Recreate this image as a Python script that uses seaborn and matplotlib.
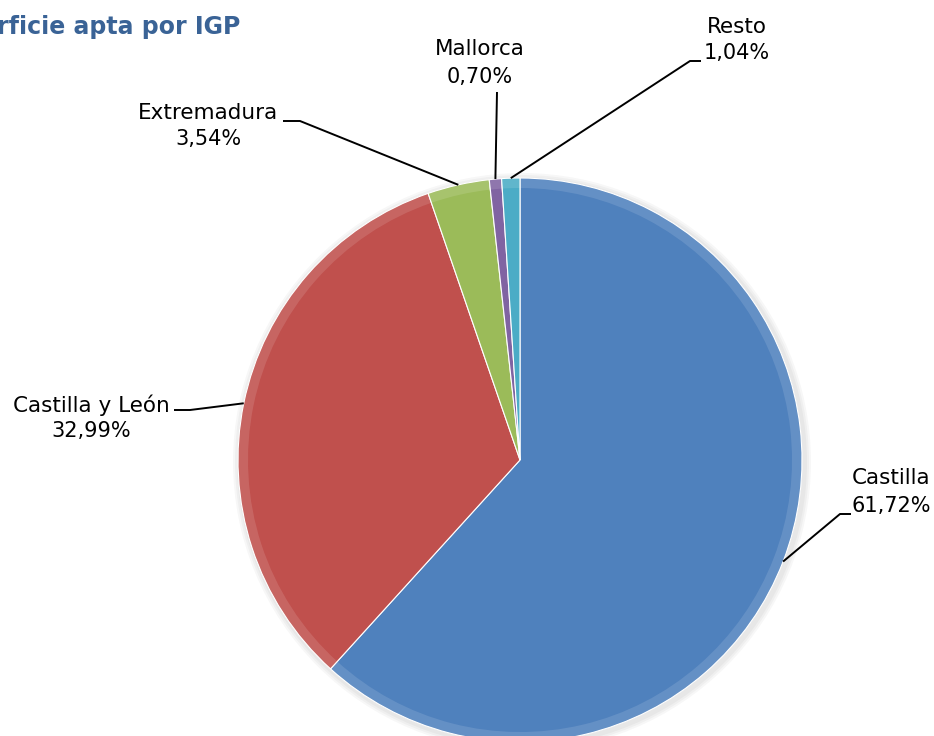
import numpy as np
import matplotlib
matplotlib.use('Agg')
import matplotlib.pyplot as plt
import seaborn as sns

# datos
regiones = ['Castilla', 'Castilla y León', 'Extremadura', 'Mallorca', 'Resto']
porcentajes = [61.72, 32.99, 3.54, 0.70, 1.04]
etiquetas = ['61,72%', '32,99%', '3,54%', '0,70%', '1,04%']
colores = ['#4F81BD', '#C0504D', '#9BBB59', '#8064A2', '#4BACC6']

titulo = 'Superficie apta por IGP'

sns.set_theme(style='white')
plt.rcParams['font.family'] = ['DejaVu Sans']

W, H = 934, 736
fig = plt.figure(figsize=(W / 100, H / 100), dpi=100)
ax = fig.add_axes([0, 0, 1, 1])

# posicion del pastel en pixeles (y medida desde arriba)
cx, cy, R = 520, 460, 282


def py(y):
    return H - y


# sombra suave alrededor
for i in range(3):
    ax.add_patch(plt.Circle((cx + 2, py(cy) - 2), R + 3 + 2 * i, color='black',
                            alpha=0.03, lw=0, zorder=0))

wedges, _ = ax.pie(porcentajes, colors=colores, startangle=90, counterclock=False,
                   center=(cx, py(cy)), radius=R, frame=True,
                   wedgeprops=dict(edgecolor='white', linewidth=0.8, zorder=2))
ax.set_xlim(0, W)
ax.set_ylim(0, H)
ax.set_aspect('equal')
ax.axis('off')

# brillo ligero en los bordes de cada sector
for w in wedges:
    ax.add_patch(matplotlib.patches.Wedge(w.center, w.r, w.theta1, w.theta2,
                                          width=10, facecolor='white',
                                          alpha=0.12, lw=0, zorder=3))

# posiciones de etiquetas: (x texto, y linea1, y linea2), puntos de la linea guia
disposicion = {
    'Castilla': ((891, 478, 506), [(840, 514), (851, 514)]),
    'Castilla y León': ((91, 405, 431), [(190, 410), (174, 410)]),
    'Extremadura': ((208, 113, 139), [(300, 121), (283, 121)]),
    'Mallorca': ((480, 49, 77), [(497, 92)]),
    'Resto': ((737, 27, 53), [(690, 61), (701, 61)]),
}

for w, reg, et in zip(wedges, regiones, etiquetas):
    ang = np.deg2rad((w.theta1 + w.theta2) / 2)
    ax_x = w.center[0] + R * np.cos(ang)
    ax_y = w.center[1] + R * np.sin(ang)
    (tx, y1, y2), pts = disposicion[reg]
    xs = [ax_x] + [p[0] for p in pts]
    ys = [ax_y] + [py(p[1]) for p in pts]
    ax.plot(xs, ys, color='black', lw=1.4, zorder=4, solid_capstyle='butt')
    ax.text(tx, py(y1), reg, ha='center', va='center', fontsize=15.5, color='black')
    ax.text(tx, py(y2), et, ha='center', va='center', fontsize=15, color='black')

ax.text(240, py(27), titulo, ha='right', va='center', fontsize=17,
        fontweight='bold', color='#3A6396')

fig.savefig('out.png', dpi=100)
